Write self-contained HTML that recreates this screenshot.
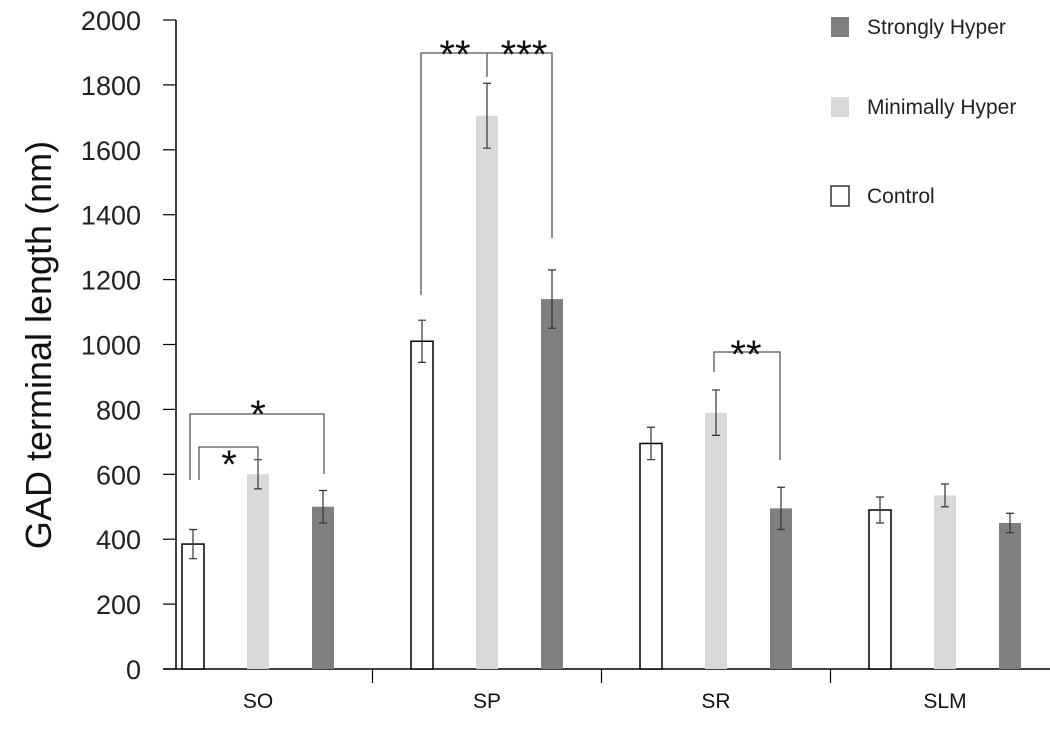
<!DOCTYPE html>
<html><head><meta charset="utf-8"><style>
body{margin:0;background:#fff;}
svg text{font-family:"Liberation Sans",sans-serif;}
</style></head><body>
<svg id="chart" width="1050" height="726" xmlns="http://www.w3.org/2000/svg">
<g id="axes"></g><g id="bars"></g><g id="annot"></g><g id="legend"></g>
</svg>
<script>
const categories = ["SO","SP","SR","SLM"];
const seriesNames = ["Control","Minimally Hyper","Strongly Hyper"];
const controlVals = [385,1010,695,490];
const minimalVals = [600,1705,790,535];
const strongVals = [500,1140,495,450];
const controlErr = [45,65,50,40];
const minimalErr = [45,100,70,35];
const strongErr = [50,90,65,30];
const yTicks = [0,200,400,600,800,1000,1200,1400,1600,1800,2000];

const NS="http://www.w3.org/2000/svg";
const y0=669, y1=20, axX=176, xEnd=1050, groupW=229, firstC=258;
function y(v){return y0-(v/2000)*(y0-y1);}
function xc(i){return firstC+i*groupW;}
function mk(tag,attrs,parent){const e=document.createElementNS(NS,tag);for(const k in attrs)e.setAttribute(k,attrs[k]);parent.appendChild(e);return e;}
const axes=document.getElementById('axes'),bars=document.getElementById('bars'),annot=document.getElementById('annot'),legend=document.getElementById('legend');

let l=mk('line',{x1:axX,y1:y(0),x2:axX,y2:y(2000),stroke:'#000','stroke-width':1.5},axes);


l=mk('line',{x1:163,y1:y(0),x2:xEnd,y2:y(0),stroke:'#000','stroke-width':1.5},axes);


yTicks.forEach(v=>{
  const t=mk('line',{x1:163,y1:y(v),x2:axX,y2:y(v),stroke:'#000','stroke-width':1.2},axes);
  
  
  const tx=mk('text',{x:141,y:y(v)+10,'text-anchor':'end','font-size':27,fill:'#222'},axes);
  tx.textContent=v;
  
  
});
const yt=mk('text',{transform:'translate(51,345) rotate(-90)','text-anchor':'middle','font-size':36,fill:'#111'},axes);
yt.textContent='GAD terminal length (nm)';


categories.forEach((c,i)=>{
  const t=mk('text',{x:xc(i),y:708,'text-anchor':'middle','font-size':21,fill:'#111'},axes);
  t.textContent=c;
  
  
  if(i<categories.length-1){
    const s=mk('line',{x1:xc(i)+groupW/2,y1:y(0),x2:xc(i)+groupW/2,y2:y(0)+14,stroke:'#000','stroke-width':1.2},axes);
    
    
  }
});
const series=[[controlVals,controlErr,'#fff',-65],[minimalVals,minimalErr,'#d9d9d9',0],[strongVals,strongErr,'#7f7f7f',65]];
const bw=22;
series.forEach((s,si)=>{
  s[0].forEach((v,i)=>{
    const cx=xc(i)+s[3];
    const r=mk('rect',{x:cx-bw/2,y:y(v),width:bw,height:y(0)-y(v),fill:s[2],stroke:si==0?'#000':'none','stroke-width':1.5},bars);
    
    
    const e=s[1][i];
    const p=mk('path',{d:`M${cx},${y(v+e)}V${y(v-e)}M${cx-4},${y(v+e)}H${cx+4}M${cx-4},${y(v-e)}H${cx+4}`,stroke:'#333','stroke-width':1.2,fill:'none'},bars);
    
    
  });
});
function bracket(d,sx,sy,txt){
  if(d){
  const p=mk('path',{d:d,stroke:'#555','stroke-width':1.3,fill:'none'},annot);
  
  
  }
  const t=mk('text',{x:sx,y:sy,'text-anchor':'middle','font-size':40,fill:'#111'},annot);
  t.textContent=txt;
  
  
}
bracket('M190,480V414H324V474',258,428,'*');
bracket('M199,480V447H258V462',229,478,'*');
bracket('M421,295V53H552V238M487,53V77',455,68,'**');
bracket('',524,68,'***');
bracket('M714,372V352H780V460',746,368,'**');
const leg=[['Strongly Hyper','#7f7f7f',27],['Minimally Hyper','#d9d9d9',107],['Control','#fff',196]];
leg.forEach(g=>{
  const r=mk('rect',{x:831,y:g[2]-10,width:18,height:20,fill:g[1],stroke:g[1]=='#fff'?'#000':'none','stroke-width':1.2},legend);
  
  
  const t=mk('text',{x:867,y:g[2]+7,'font-size':21,fill:'#222'},legend);
  t.textContent=g[0];
  
  
});
</script>
</body></html>
